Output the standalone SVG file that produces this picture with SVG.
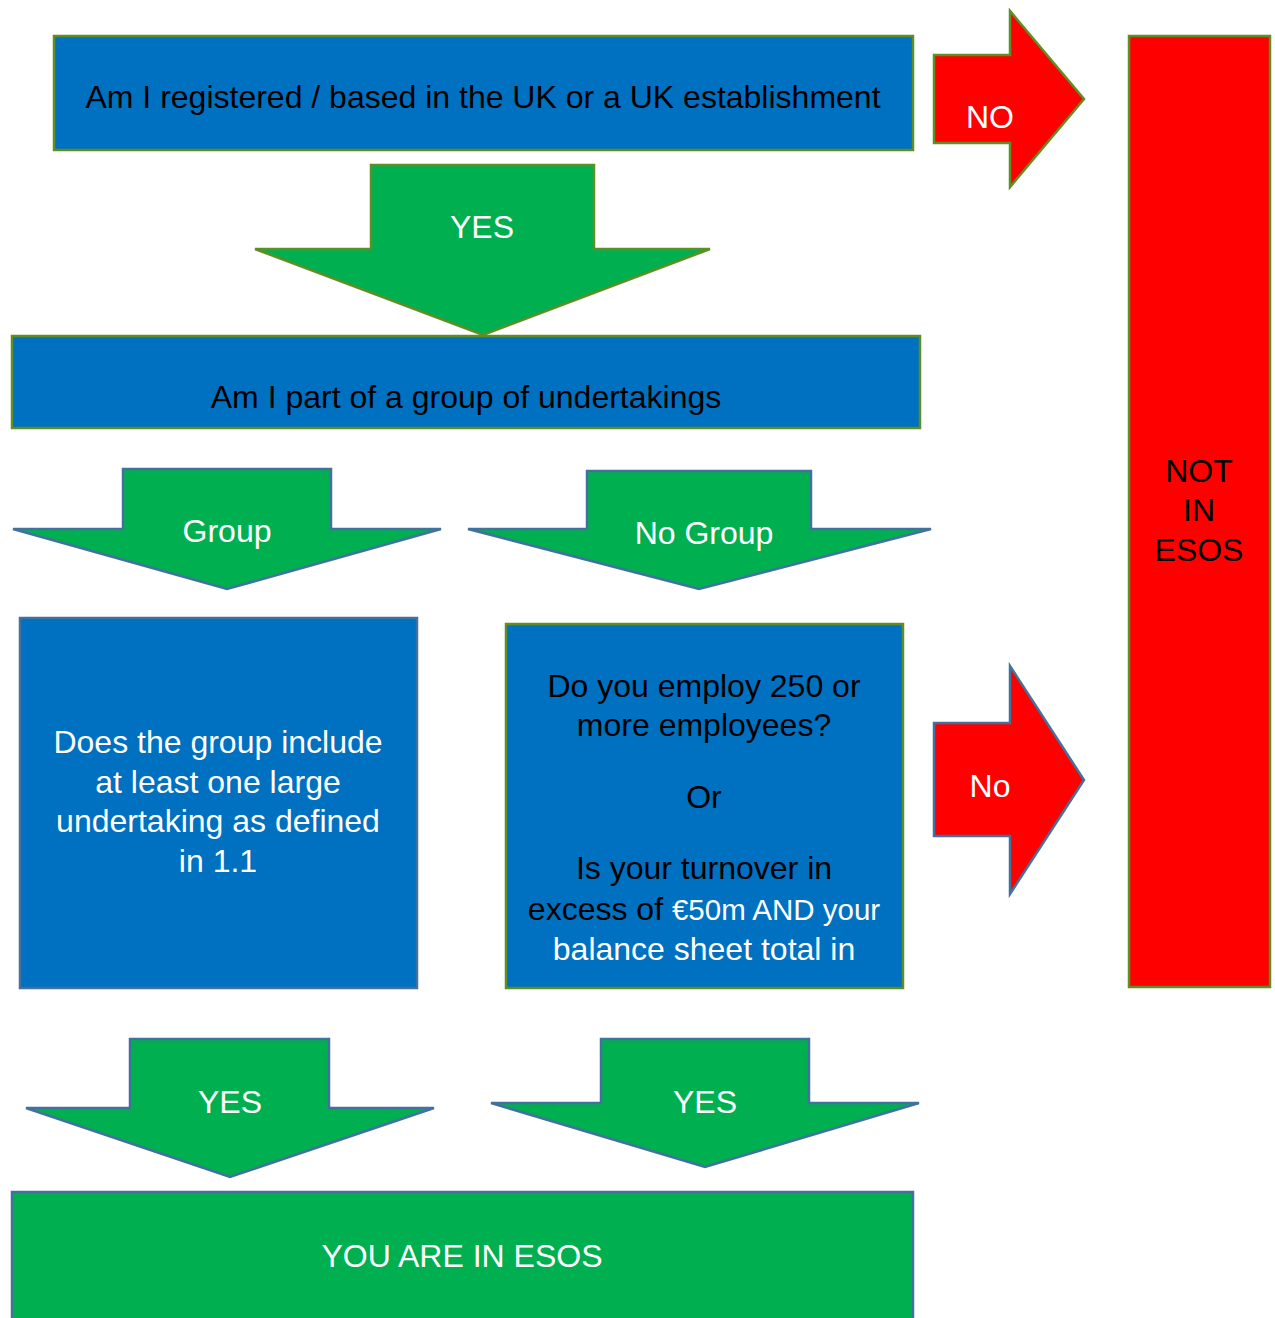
<svg xmlns="http://www.w3.org/2000/svg" width="1275" height="1318" viewBox="0 0 1275 1318">
<style>
text{font-family:"Liberation Sans",Arial,sans-serif;font-size:32px;text-anchor:middle}
.w{fill:#fff}.k{fill:#000}
.blue{fill:#0070C0}.green{fill:#00B050}.red{fill:#FF0000}
.sg{stroke:#5E8E24;stroke-width:2.5}.sb{stroke:#41719C;stroke-width:2.5}
</style>
<rect width="1275" height="1318" fill="#fff"/>
<g id="q1"><rect class="blue sg" x="54" y="36" width="859" height="114"/><text class="k" x="483" y="108">Am I registered / based in the UK or a UK establishment</text></g>
<g id="q2"><rect class="blue sg" x="12" y="336" width="908" height="92"/><text class="k" x="466" y="408">Am I part of a group of undertakings</text></g>
<g id="q3"><rect class="blue sb" x="20" y="618" width="397" height="370"/>
<text class="w" x="218" y="753">Does the group include</text>
<text class="w" x="218" y="793">at least one large</text>
<text class="w" x="218" y="832">undertaking as defined</text>
<text class="w" x="218" y="872">in 1.1</text></g>
<g id="q4"><rect class="blue sg" x="506" y="624" width="397" height="364"/>
<text class="k" x="704" y="697">Do you employ 250 or</text>
<text class="k" x="704" y="736">more employees?</text>
<text class="k" x="704" y="808">Or</text>
<text class="k" x="704" y="879">Is your turnover in</text>
<text x="704" y="920"><tspan class="k">excess of </tspan><tspan class="w" style="font-size:29.5px">€50m AND your</tspan></text>
<text class="w" x="704" y="960">balance sheet total in</text></g>
<g id="notin"><rect class="red sg" x="1129" y="36" width="141" height="951"/>
<text class="k" x="1199" y="482">NOT</text><text class="k" x="1199" y="521">IN</text><text class="k" x="1199" y="561">ESOS</text></g>
<g id="inesos"><rect class="green sb" x="12" y="1192" width="901" height="140"/><text class="w" x="462" y="1267">YOU ARE IN ESOS</text></g>
<g id="connectors">
<g id="a-yes1"><polygon class="green sg" points="371,165 594,165 594,249 710,249 483,335 255,249 371,249"/><text class="w" x="482" y="238">YES</text></g>
<g id="a-no1"><polygon class="red sg" points="934,55 1010,55 1010,11 1084,99 1010,187 1010,143 934,143"/><text class="w" x="990" y="128">NO</text></g>
<g id="a-group"><polygon class="green sb" points="123,469 331,469 331,529 441,529 227,589 13,529 123,529"/><text class="w" x="227" y="542">Group</text></g>
<g id="a-nogroup"><polygon class="green sb" points="587,471 811,471 811,529 931,529 699,589 468,529 587,529"/><text class="w" x="704" y="544">No Group</text></g>
<g id="a-no2"><polygon class="red sb" points="934,723 1010,723 1010,666 1084,780 1010,894 1010,836 934,836"/><text class="w" x="990" y="797">No</text></g>
<g id="a-yes2"><polygon class="green sb" points="130,1039 329,1039 329,1108 434,1108 230,1177 26,1108 130,1108"/><text class="w" x="230" y="1113">YES</text></g>
<g id="a-yes3"><polygon class="green sb" points="601,1039 809,1039 809,1103 919,1103 705,1167 491,1103 601,1103"/><text class="w" x="705" y="1113">YES</text></g>
</g>
</svg>
